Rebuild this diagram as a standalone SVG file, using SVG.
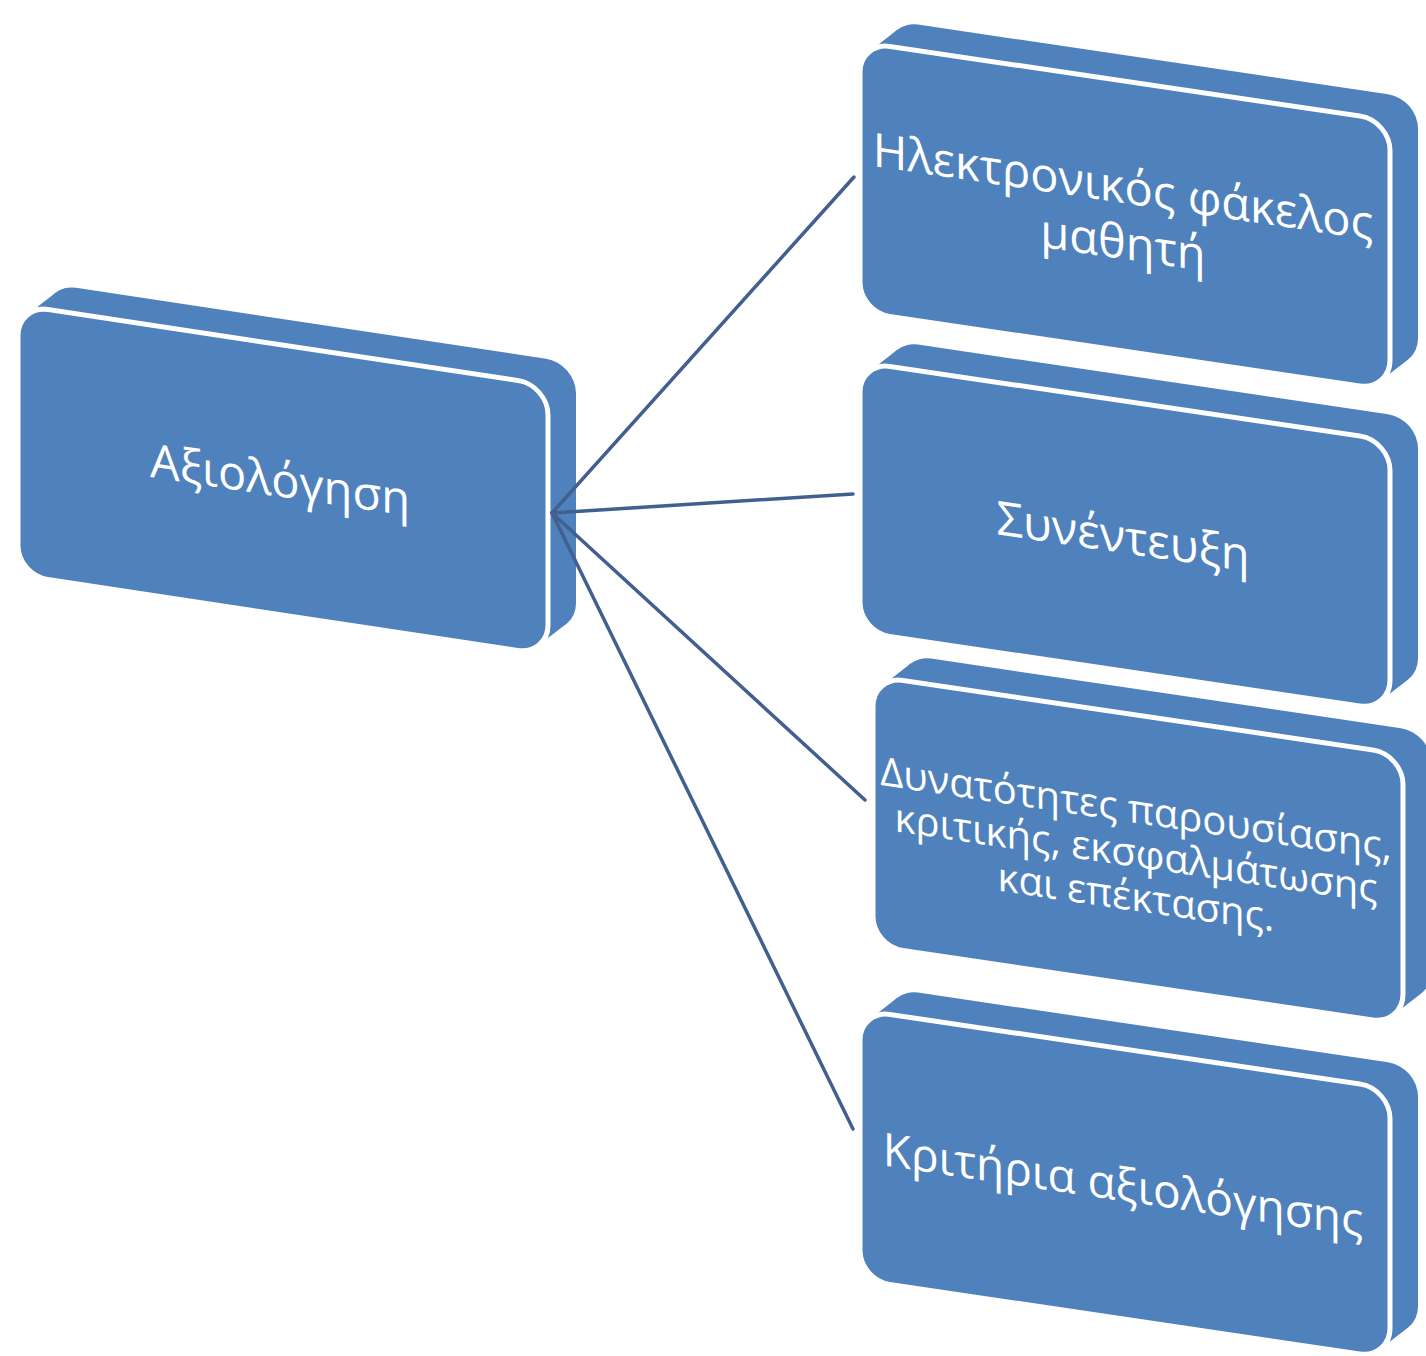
<svg xmlns="http://www.w3.org/2000/svg" xmlns:xlink="http://www.w3.org/1999/xlink" width="1426" height="1356" viewBox="0 0 1426 1356">
<style>
.face{fill:#4F81BD}
.front{fill:#4F81BD;stroke:#FFFFFF;stroke-width:5}
.lbl{font-family:"Open Sans","Noto Sans",sans-serif;fill:#FFFFFF;text-anchor:middle}
.conn{stroke:#41608F;stroke-width:3.5;fill:none;stroke-linecap:round}
</style>
<defs>
<g id="box3d">
<rect class="face" x="28" y="-26" width="530" height="270" rx="30"/>
<polygon class="face" points="9.6,8 37.6,-18 548.4,236 520.4,262"/>
<rect class="front" x="0" y="0" width="530" height="270" rx="30"/>
</g>
</defs>
<rect width="1426" height="1356" fill="#FFFFFF"/>
<g id="node-axiologisi" transform="matrix(1 0.151 0 1 18 305)">
<use xlink:href="#box3d"/>
<text class="lbl" x="262" y="152" font-size="47">Αξιολόγηση</text>
</g>
<g id="node-fakelos" transform="matrix(1 0.148 0 1 860 42)">
<use xlink:href="#box3d"/>
<text class="lbl" font-size="47"><tspan x="263" y="122">Ηλεκτρονικός φάκελος</tspan><tspan x="263" y="178">μαθητή</tspan></text>
</g>
<g id="node-synenteuxi" transform="matrix(1 0.148 0 1 860 362)">
<use xlink:href="#box3d"/>
<text class="lbl" x="263" y="152" font-size="47">Συνέντευξη</text>
</g>
<g id="node-dynatotites" transform="matrix(1 0.148 0 1 873 676)">
<use xlink:href="#box3d"/>
<text class="lbl" font-size="40"><tspan x="263" y="108">Δυνατότητες παρουσίασης,</tspan><tspan x="263" y="152">κριτικής, εκσφαλμάτωσης</tspan><tspan x="263" y="196">και επέκτασης.</tspan></text>
</g>
<g id="node-kritiria" transform="matrix(1 0.148 0 1 860 1010)">
<use xlink:href="#box3d"/>
<text class="lbl" x="263" y="152" font-size="46">Κριτήρια αξιολόγησης</text>
</g>
<g id="connectors">
<path class="conn" d="M552,513 L854,177"/>
<path class="conn" d="M552,513 L853,494"/>
<path class="conn" d="M552,513 L865,800"/>
<path class="conn" d="M552,513 L853,1129"/>
</g>
</svg>
